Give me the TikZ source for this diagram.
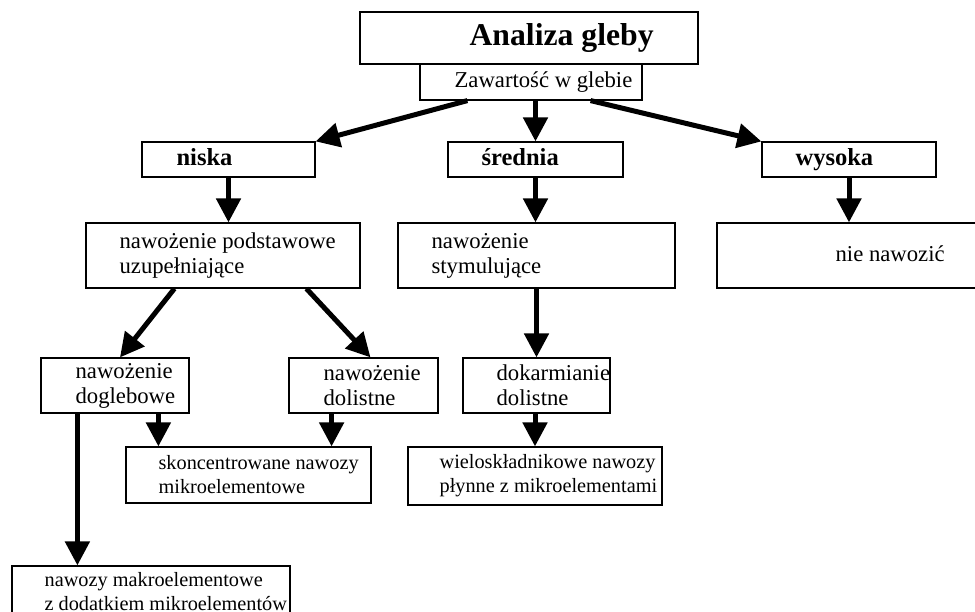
\documentclass[tikz,border=0pt]{standalone}
\usepackage{fontspec}
\setmainfont{Liberation Serif}
\usetikzlibrary{arrows.meta, positioning, calc}

\begin{document}
\begin{tikzpicture}[x=1pt, y=-1pt,
    box/.style={rectangle, draw, line width=1.2pt, inner sep=0pt, fill=white},
    txt/.style={anchor=west, align=left, inner sep=0pt, font=\fontsize{22.7}{25}\selectfont},
    small/.style={txt, font=\fontsize{20.3}{24}\selectfont},
    one/.style={txt, text height=16pt, text depth=5pt},
    lbl/.style={anchor=west, inner sep=0pt, text height=17pt, text depth=5pt,
      font=\fontsize{24.5}{28}\selectfont\bfseries},
    title/.style={lbl, text height=21pt, text depth=6pt, font=\fontsize{31.7}{34}\selectfont\bfseries},
    arr/.style={line width=5pt, -{Triangle[length=24pt, width=24pt]}}
  ]
    \clip (0,0) rectangle (975,611);

    % top
    \node[box, minimum width=338, minimum height=52] (analiza) at (529,38) {};
    \node[title] (t-analiza) at ([xshift=110]analiza.west) {Analiza gleby};
    \node[box, minimum width=222, minimum height=36] (zawartosc) at (531,82) {};
    \node[one] (t-zawartosc) at ([xshift=35]zawartosc.west) {Zawartość w glebie};

    % levels
    \node[box, minimum width=173, minimum height=35] (niska) at (228.5,159.5) {};
    \node[lbl] (t-niska) at ([xshift=35]niska.west) {niska};
    \node[box, minimum width=175, minimum height=35] (srednia) at (535.5,159.5) {};
    \node[lbl] (t-srednia) at ([xshift=34]srednia.west) {średnia};
    \node[box, minimum width=174, minimum height=35] (wysoka) at (849,159.5) {};
    \node[lbl] (t-wysoka) at ([xshift=34]wysoka.west) {wysoka};

    % fertilising
    \node[box, minimum width=274, minimum height=65] (podst) at (223,255.5) {};
    \node[txt] (t-podst) at ([xshift=34]podst.west) {nawożenie podstawowe\\uzupełniające};
    \node[box, minimum width=277, minimum height=65] (stym) at (536.5,255.5) {};
    \node[txt] (t-stym) at ([xshift=34]stym.west) {nawożenie\\stymulujące};
    \node[box, minimum width=278, minimum height=65] (nienaw) at (856,255.5) {};
    \node[one] (t-nienaw) at ([xshift=119]nienaw.west) {nie nawozić};

    \node[box, minimum width=148, minimum height=55] (dogleb) at (115,385.5) {};
    \node[txt] (t-dogleb) at ([xshift=35]dogleb.west) {nawożenie\\doglebowe};
    \node[box, minimum width=149, minimum height=55] (dolist) at (363.5,385.5) {};
    \node[txt] (t-dolist) at ([xshift=35]dolist.west) {nawożenie\\dolistne};
    \node[box, minimum width=147, minimum height=55] (dokarm) at (536.5,385.5) {};
    \node[txt] (t-dokarm) at ([xshift=34]dokarm.west) {dokarmianie\\dolistne};

    % products
    \node[box, minimum width=245, minimum height=56] (skonc) at (248.5,475) {};
    \node[small] (t-skonc) at ([xshift=33]skonc.west) {skoncentrowane nawozy\\mikroelementowe};
    \node[box, minimum width=254, minimum height=58] (wielo) at (535,476) {};
    \node[small] (t-wielo) at ([xshift=32]wielo.west) {wieloskładnikowe nawozy\\płynne z mikroelementami};
    \node[box, minimum width=278, minimum height=59] (makro) at (151,595.5) {};
    \node[small] (t-makro) at ([xshift=33, yshift=4]makro.west) {nawozy makroelementowe\\z dodatkiem mikroelementów};

    \coordinate (a1) at ([xshift=33]skonc.north west);
    \coordinate (a2) at ([xshift=-40]skonc.north east);
    \coordinate (a3) at ([xshift=66]makro.north west);

    \draw[arr] ([xshift=48]zawartosc.south west) -- (niska.north east);
    \draw[arr] (zawartosc.south -| srednia.north) -- (srednia.north);
    \draw[arr] ([xshift=-52]zawartosc.south east) -- (wysoka.north west);

    \draw[arr] (niska.south) -- (niska.south |- podst.north);
    \draw[arr] (srednia.south) -- (srednia.south |- stym.north);
    \draw[arr] (wysoka.south) -- (wysoka.south |- nienaw.north);

    \draw[arr] ([xshift=89]podst.south west) -- ([xshift=5]dogleb.north);
    \draw[arr] ([xshift=221]podst.south west) -- ([xshift=7]dolist.north);
    \draw[arr] (stym.south) -- (stym.south |- dokarm.north);

    \draw[arr] (dogleb.south -| a1) -- (a1);
    \draw[arr] (dolist.south -| a2) -- (a2);
    \draw[arr] (dogleb.south -| a3) -- (a3);
    \draw[arr] (dokarm.south -| wielo.north) -- (wielo.north);
  \end{tikzpicture}
\end{document}
